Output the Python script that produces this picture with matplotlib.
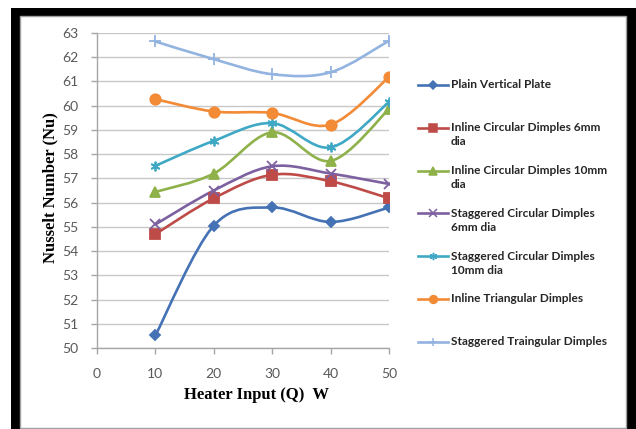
import numpy as np
import matplotlib
matplotlib.use('Agg')
import matplotlib.pyplot as plt
from matplotlib.path import Path
from matplotlib.patches import PathPatch, Rectangle
from matplotlib.lines import Line2D

heat_input = [10, 20, 30, 40, 50]

plain_plate = [50.52, 55.05, 55.80, 55.20, 55.80]
inline_circ_6 = [54.70, 56.18, 57.15, 56.88, 56.18]
inline_circ_10 = [56.44, 57.20, 58.90, 57.72, 59.86]
stag_circ_6 = [55.10, 56.50, 57.50, 57.20, 56.77]
stag_circ_10 = [57.52, 58.55, 59.28, 58.28, 60.15]
inline_tri = [60.27, 59.76, 59.70, 59.22, 61.18]
stag_tri = [62.65, 61.92, 61.30, 61.38, 62.68]

labels = ['Plain Vertical Plate',
          'Inline Circular Dimples 6mm\ndia',
          'Inline Circular Dimples 10mm\ndia',
          'Staggered Circular Dimples\n6mm dia',
          'Staggered Circular Dimples\n10mm dia',
          'Inline Triangular Dimples',
          'Staggered Traingular Dimples']

series = [plain_plate, inline_circ_6, inline_circ_10, stag_circ_6,
          stag_circ_10, inline_tri, stag_tri]
colors = ['#4472b4', '#be4b48', '#8eb14a', '#7d60a0', '#3fa9c5', '#f28a36', '#93b3e0']
markers = ['D', 's', '^', 'x', (6, 2, 0), 'o', '+']
msizes = [5, 7, 7, 7, 7, 7.5, 8]


def smooth_path(xs, ys):
    # Excel style smoothed line: Bezier segments through every point
    pts = np.column_stack([xs, ys]).astype(float)
    n = len(pts)
    verts = [pts[0]]
    codes = [Path.MOVETO]
    for i in range(n - 1):
        p0 = pts[max(i - 1, 0)]
        p1 = pts[i]
        p2 = pts[i + 1]
        p3 = pts[min(i + 2, n - 1)]
        verts += [p1 + (p2 - p0) / 6, p2 - (p3 - p1) / 6, p2]
        codes += [Path.CURVE4] * 3
    return Path(verts, codes)


W, H = 636, 429
fig = plt.figure(figsize=(W / 100, H / 100), dpi=100)
fig.patch.set_facecolor('white')

# black frame of the screenshot
fig.add_artist(Rectangle((11 / W, -0.05), 1.0, 1 - 8 / H + 0.05, transform=fig.transFigure,
                         fc='black', ec='none', zorder=-2))
fig.add_artist(Rectangle((19.5 / W, 1.5 / H), (626 - 19.5) / W, (413.5 - 1.5) / H,
                         transform=fig.transFigure, fc='white', ec='#a0a0a0', lw=1.0, zorder=-1))

ax = fig.add_axes([97 / W, 1 - 348 / H, (389 - 97) / W, (348 - 33) / H])
ax.set_zorder(2)
ax.set_facecolor('white')
ax.set_xlim(0, 50)
ax.set_ylim(50, 63)
ax.set_xticks(range(0, 51, 10))
ax.set_yticks(range(50, 64))
ax.yaxis.grid(True, color='#c8c8c8', lw=1.0)
ax.set_axisbelow(True)
for s in ['top', 'right']:
    ax.spines[s].set_visible(False)
for s in ['left', 'bottom']:
    ax.spines[s].set_color('#a6a6a6')
    ax.spines[s].set_linewidth(1.0)
ax.tick_params(axis='both', colors='#a6a6a6', labelcolor='#595959', length=4.5, width=1.0)
ax.tick_params(axis='y', pad=9)
ax.tick_params(axis='x', pad=10)
for lab in ax.get_xticklabels() + ax.get_yticklabels():
    lab.set_fontfamily('Lato')
    lab.set_fontsize(10)

for vals, c, m, ms in zip(series, colors, markers, msizes):
    ax.add_patch(PathPatch(smooth_path(heat_input, vals), fill=False, ec=c, lw=1.9,
                           capstyle='round', joinstyle='round'))
    ax.plot(heat_input, vals, ls='none', marker=m, ms=ms, color=c, mec=c, mew=1.3)

ax.set_xlabel('Heater Input (Q)  W', family='Liberation Serif', fontweight='bold', fontsize=12)
ax.set_ylabel('Nusselt Number (Nu)', family='Liberation Serif', fontweight='bold', fontsize=12)
ax.xaxis.set_label_coords((256 - 97) / (389 - 97), -(395 - 348) / (348 - 33))
ax.yaxis.set_label_coords(-(97 - 50) / (389 - 97), (348 - 188) / (348 - 33))
ax.xaxis.label.set_va('center')
ax.yaxis.label.set_va('center')

# legend, evenly spaced slots like Excel
for i, (lab, c, m, ms) in enumerate(zip(labels, colors, markers, msizes)):
    y = 1 - (85 + i * 42.8) / H
    fig.add_artist(Line2D([418 / W, 448 / W], [y, y], transform=fig.transFigure, color=c, lw=1.9))
    fig.add_artist(Line2D([433 / W], [y], transform=fig.transFigure, color=c, marker=m,
                          ms=ms * 0.75, mec=c, mew=1.1, ls='none'))
    for j, line in enumerate(lab.split('\n')):
        fig.text(451 / W, y - j * 13.8 / H, line, family='Lato', fontweight='bold', fontsize=8.6,
                 color='#262626', va='center', ha='left')

fig.savefig('out.png', dpi=100)
